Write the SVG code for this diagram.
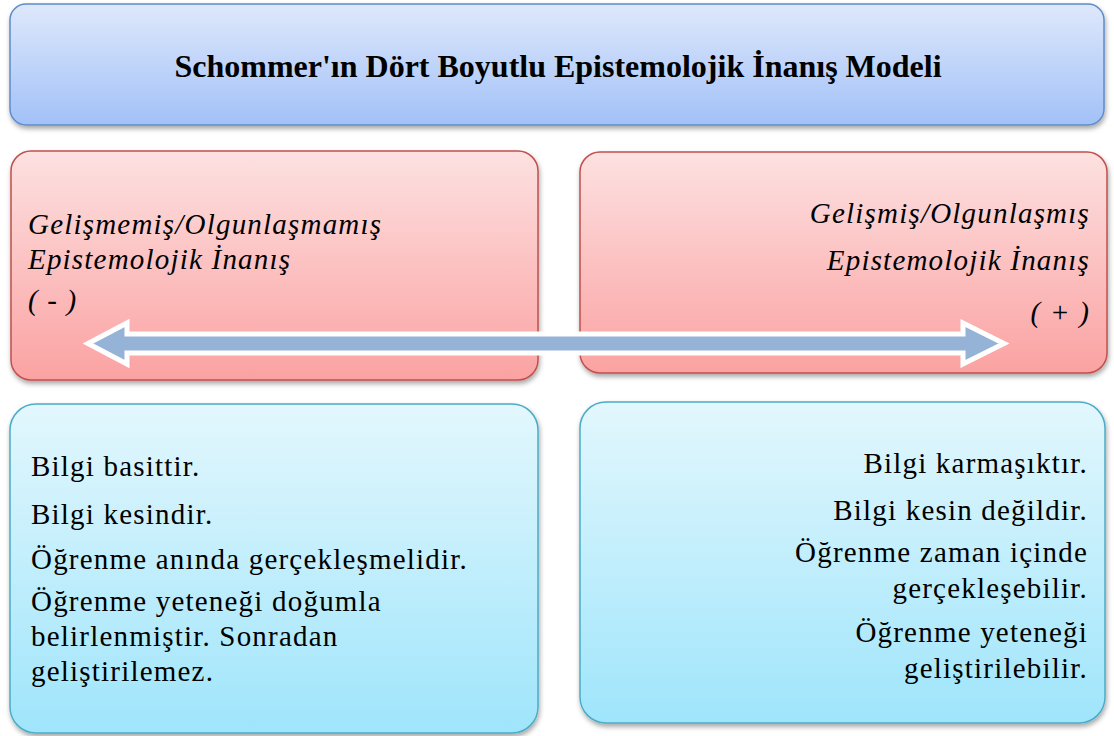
<svg xmlns="http://www.w3.org/2000/svg" width="1114" height="736" viewBox="0 0 1114 736">
<defs>
<linearGradient id="gTitle" x1="0" y1="0" x2="0" y2="1"><stop offset="0" stop-color="#DEE8FB"/><stop offset="1" stop-color="#A2C1F8"/></linearGradient>
<linearGradient id="gRed" x1="0" y1="0" x2="0" y2="1"><stop offset="0" stop-color="#FDE1E1"/><stop offset="1" stop-color="#FBA2A2"/></linearGradient>
<linearGradient id="gBlue" x1="0" y1="0" x2="0" y2="1"><stop offset="0" stop-color="#E3F7FD"/><stop offset="1" stop-color="#9FE5FB"/></linearGradient>
<filter id="sh" x="-5%" y="-10%" width="110%" height="125%"><feDropShadow dx="1" dy="3" stdDeviation="2.5" flood-color="#000" flood-opacity="0.35"/></filter>
</defs>
<g font-family="Liberation Serif, Tinos, DejaVu Serif, serif" fill="#000">
<g id="title">
<rect x="10" y="4" width="1094" height="121" rx="16" fill="url(#gTitle)" stroke="#5E8CC9" stroke-width="1.5" filter="url(#sh)"/>
<text x="558" y="77" text-anchor="middle" font-weight="bold" font-size="32">Schommer'ın Dört Boyutlu Epistemolojik İnanış Modeli</text>
</g>
<g id="neg" font-style="italic" font-size="29" letter-spacing="1.2">
<rect x="11" y="151" width="527" height="229" rx="20" fill="url(#gRed)" stroke="#C0504D" stroke-width="1.5" filter="url(#sh)"/>
<text x="28" y="234">Gelişmemiş/Olgunlaşmamış</text>
<text x="28" y="269">Epistemolojik İnanış</text>
<text x="28" y="310">( - )</text>
</g>
<g id="pos" font-style="italic" font-size="29" letter-spacing="1.2" text-anchor="end">
<rect x="580" y="152" width="527" height="221" rx="20" fill="url(#gRed)" stroke="#C0504D" stroke-width="1.5" filter="url(#sh)"/>
<text x="1090" y="223">Gelişmiş/Olgunlaşmış</text>
<text x="1090" y="270">Epistemolojik İnanış</text>
<text x="1090" y="322">( + )</text>
</g>
<g id="negList" font-size="29" letter-spacing="1.2">
<rect x="10" y="404" width="528" height="329" rx="26" fill="url(#gBlue)" stroke="#4BACC6" stroke-width="1.5" filter="url(#sh)"/>
<text x="31" y="476">Bilgi basittir.</text>
<text x="31" y="524">Bilgi kesindir.</text>
<text x="31" y="569">Öğrenme anında gerçekleşmelidir.</text>
<text x="31" y="611">Öğrenme yeteneği doğumla</text>
<text x="31" y="646">belirlenmiştir. Sonradan</text>
<text x="31" y="681">geliştirilemez.</text>
</g>
<g id="posList" font-size="29" letter-spacing="1.2" text-anchor="end">
<rect x="580" y="402" width="525" height="321" rx="26" fill="url(#gBlue)" stroke="#4BACC6" stroke-width="1.5" filter="url(#sh)"/>
<text x="1088" y="473">Bilgi karmaşıktır.</text>
<text x="1088" y="520">Bilgi kesin değildir.</text>
<text x="1088" y="562">Öğrenme zaman içinde</text>
<text x="1088" y="598">gerçekleşebilir.</text>
<text x="1088" y="642">Öğrenme yeteneği</text>
<text x="1088" y="678">geliştirilebilir.</text>
</g>
</g>
<g id="connectors">
<polygon points="88,343.5 127,323 127,334 963,334 963,323 1004,343.5 963,364 963,353 127,353 127,364" fill="#95B3D7" stroke="#FFFFFF" stroke-width="5" stroke-linejoin="miter"/>
</g>
</svg>
